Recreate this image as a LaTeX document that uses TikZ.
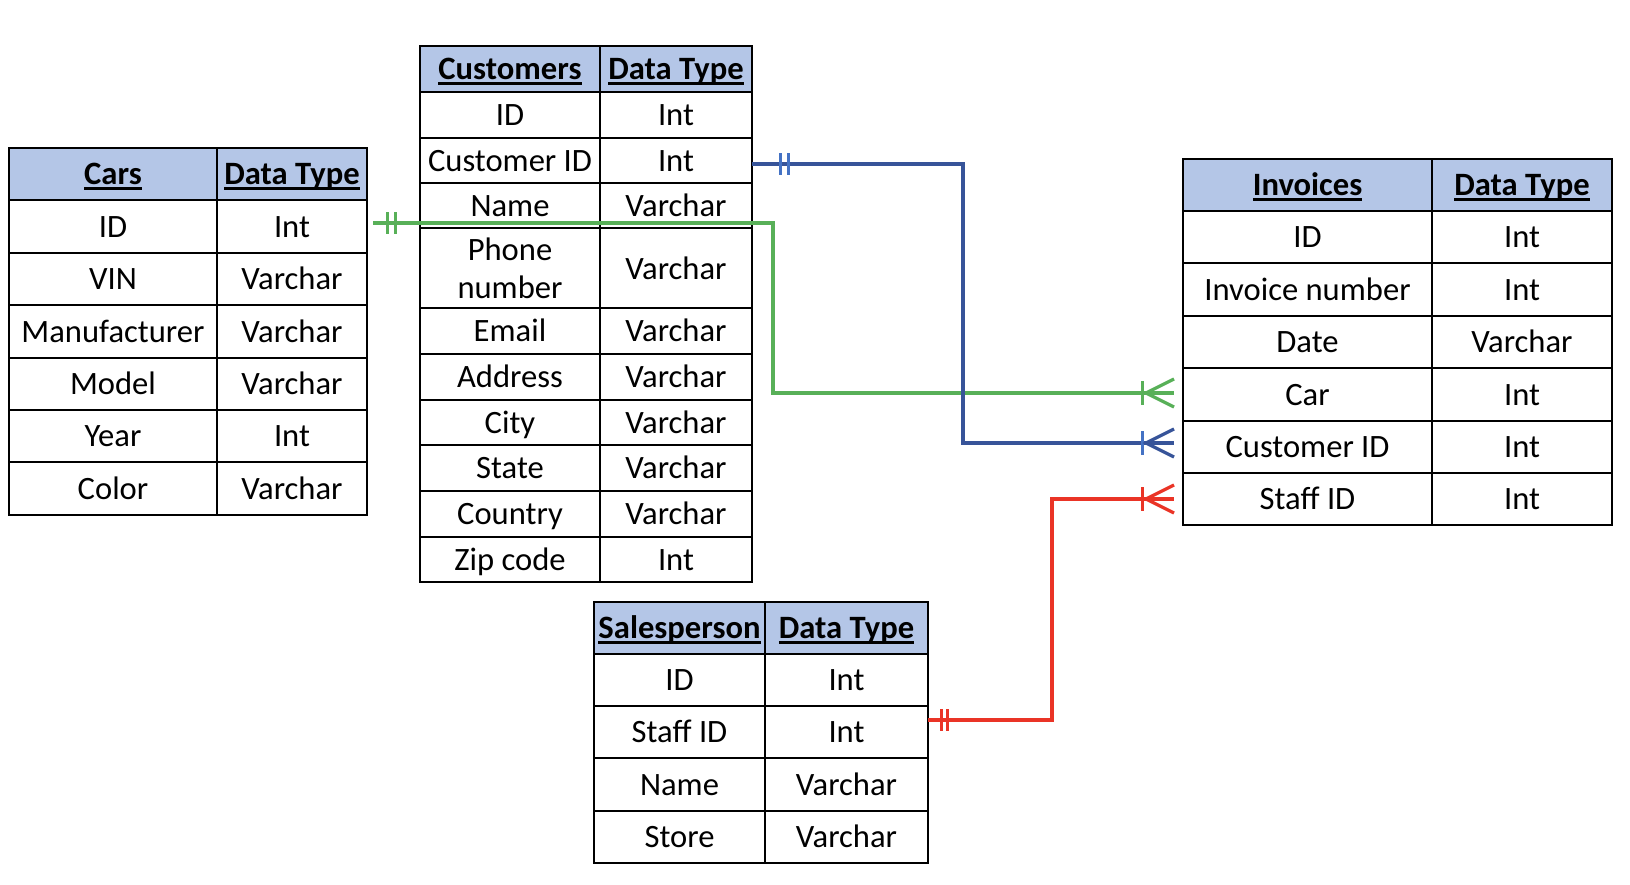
\documentclass[tikz,border=0pt]{standalone}
\usepackage{fontspec}
\setmainfont{Carlito}
\usetikzlibrary{calc}
\definecolor{hdrfill}{RGB}{180,198,231}
\definecolor{lgreen}{RGB}{88,176,88}
\definecolor{lblue}{RGB}{55,84,153}
\definecolor{lbluetick}{RGB}{68,114,196}
\definecolor{lred}{RGB}{234,52,38}
\newcommand\hdrul[1]{\setbox0=\hbox{#1}\rlap{\rule[-5pt]{\wd0}{2.4pt}}\box0}
\tikzset{
  cellbox/.style={draw=black, line width=2.4pt, inner sep=0pt, outer sep=0pt,
    font=\fontsize{32.6}{38}\selectfont, text height=25pt, text depth=4pt},
  hdrbox/.style={cellbox, fill=hdrfill, font=\fontsize{32.6}{38}\selectfont\bfseries},
  multibox/.style={draw=black, line width=2.4pt, inner sep=0pt, outer sep=0pt,
    font=\fontsize{32.6}{38}\selectfont, align=center},
  link/.style={line width=3.3pt},
  tick/.style={line width=3pt},
}
% #1 name prefix, #2 #3 #4 x positions, #5 #6 y positions, #7 #8 texts, #9 style
\newcommand\trow[9]{%
  \node[#9, minimum width={#3-#2}, minimum height={#6-#5}] (#1a) at ({(#2+#3)/2},{(#5+#6)/2}) {#7};
  \node[#9, minimum width={#4-#3}, minimum height={#6-#5}] (#1b) at ({(#3+#4)/2},{(#5+#6)/2}) {#8};}
\begin{document}
\begin{tikzpicture}[x=1pt,y=-1pt]
\useasboundingbox[fill=white] (0,0) rectangle (1630,884);
% Cars
\trow{cars0}{9}{217}{367}{148}{200}{\hdrul{Cars}}{\hdrul{Data Type}}{hdrbox}
\trow{cars1}{9}{217}{367}{200}{253}{ID}{Int}{cellbox}
\trow{cars2}{9}{217}{367}{253}{305}{VIN}{Varchar}{cellbox}
\trow{cars3}{9}{217}{367}{305}{358}{Manufacturer}{Varchar}{cellbox}
\trow{cars4}{9}{217}{367}{358}{410}{Model}{Varchar}{cellbox}
\trow{cars5}{9}{217}{367}{410}{462}{Year}{Int}{cellbox}
\trow{cars6}{9}{217}{367}{462}{515}{Color}{Varchar}{cellbox}
% Customers
\trow{cus0}{420}{600}{752}{46}{92}{\hdrul{Customers}}{\hdrul{Data Type}}{hdrbox}
\trow{cus1}{420}{600}{752}{92}{138}{ID}{Int}{cellbox}
\trow{cus2}{420}{600}{752}{138}{183}{Customer ID}{Int}{cellbox}
\trow{cus3}{420}{600}{752}{183}{228}{Name}{Varchar}{cellbox}
\trow{cus4}{420}{600}{752}{228}{308}{Phone\\number}{Varchar}{multibox}
\trow{cus5}{420}{600}{752}{308}{354}{Email}{Varchar}{cellbox}
\trow{cus6}{420}{600}{752}{354}{400}{Address}{Varchar}{cellbox}
\trow{cus7}{420}{600}{752}{400}{445}{City}{Varchar}{cellbox}
\trow{cus8}{420}{600}{752}{445}{491}{State}{Varchar}{cellbox}
\trow{cus9}{420}{600}{752}{491}{537}{Country}{Varchar}{cellbox}
\trow{cus10}{420}{600}{752}{537}{582}{Zip code}{Int}{cellbox}
% Invoices
\trow{inv0}{1183}{1432}{1612}{159}{211}{\hdrul{Invoices}}{\hdrul{Data Type}}{hdrbox}
\trow{inv1}{1183}{1432}{1612}{211}{263}{ID}{Int}{cellbox}
\trow{inv2}{1183}{1432}{1612}{263}{316}{Invoice number}{Int}{cellbox}
\trow{inv3}{1183}{1432}{1612}{316}{368}{Date}{Varchar}{cellbox}
\trow{inv4}{1183}{1432}{1612}{368}{421}{Car}{Int}{cellbox}
\trow{inv5}{1183}{1432}{1612}{421}{473}{Customer ID}{Int}{cellbox}
\trow{inv6}{1183}{1432}{1612}{473}{525}{Staff ID}{Int}{cellbox}
% Salesperson
\trow{sal0}{594}{765}{928}{602}{654}{\hdrul{Salesperson}}{\hdrul{Data Type}}{hdrbox}
\trow{sal1}{594}{765}{928}{654}{706}{ID}{Int}{cellbox}
\trow{sal2}{594}{765}{928}{706}{758}{Staff ID}{Int}{cellbox}
\trow{sal3}{594}{765}{928}{758}{811}{Name}{Varchar}{cellbox}
\trow{sal4}{594}{765}{928}{811}{863}{Store}{Varchar}{cellbox}
% connector end points
\coordinate (g0) at ([xshift=6pt,yshift=3.5pt]cars1b.east);
\coordinate (g1) at ([xshift=-9pt,yshift=1.5pt]inv4a.west);
\coordinate (gx) at (773,0);
\coordinate (b0) at ([yshift=-3.5pt]cus2b.east);
\coordinate (b1) at ([xshift=-9pt,yshift=4pt]inv5a.west);
\coordinate (bx) at (963,0);
\coordinate (r0) at ([yshift=12pt]sal2b.east);
\coordinate (r1) at ([xshift=-9pt]inv6a.west);
\coordinate (rx) at (1052,0);
% green: Cars ID -> Invoices Car
\draw[link, lgreen] (g0) -- (gx |- g0) -- (gx |- g1) -- (g1);
\draw[tick, lgreen] ([xshift=14pt,yshift=11pt]g0) -- ([xshift=14pt,yshift=-11pt]g0);
\draw[tick, lgreen] ([xshift=22pt,yshift=11pt]g0) -- ([xshift=22pt,yshift=-11pt]g0);
\draw[tick, lgreen] ([xshift=-32pt,yshift=12pt]g1) -- ([xshift=-32pt,yshift=-12pt]g1);
\draw[link, lgreen] ([yshift=14pt]g1) -- ([xshift=-28pt]g1) -- ([yshift=-14pt]g1);
% blue: Customers Customer ID -> Invoices Customer ID
\draw[link, lblue] (b0) -- (bx |- b0) -- (bx |- b1) -- (b1);
\draw[tick, lbluetick] ([xshift=28pt,yshift=11pt]b0) -- ([xshift=28pt,yshift=-11pt]b0);
\draw[tick, lbluetick] ([xshift=36pt,yshift=11pt]b0) -- ([xshift=36pt,yshift=-11pt]b0);
\draw[tick, lbluetick] ([xshift=-32pt,yshift=12pt]b1) -- ([xshift=-32pt,yshift=-12pt]b1);
\draw[link, lblue] ([yshift=14pt]b1) -- ([xshift=-28pt]b1) -- ([yshift=-14pt]b1);
% red: Salesperson Staff ID -> Invoices Staff ID
\draw[link, lred] (r0) -- (rx |- r0) -- (rx |- r1) -- (r1);
\draw[tick, lred] ([xshift=13pt,yshift=11pt]r0) -- ([xshift=13pt,yshift=-11pt]r0);
\draw[tick, lred] ([xshift=19pt,yshift=11pt]r0) -- ([xshift=19pt,yshift=-11pt]r0);
\draw[tick, lred] ([xshift=-32pt,yshift=12pt]r1) -- ([xshift=-32pt,yshift=-12pt]r1);
\draw[link, lred] ([yshift=14pt]r1) -- ([xshift=-28pt]r1) -- ([yshift=-14pt]r1);
\end{tikzpicture}
\end{document}
